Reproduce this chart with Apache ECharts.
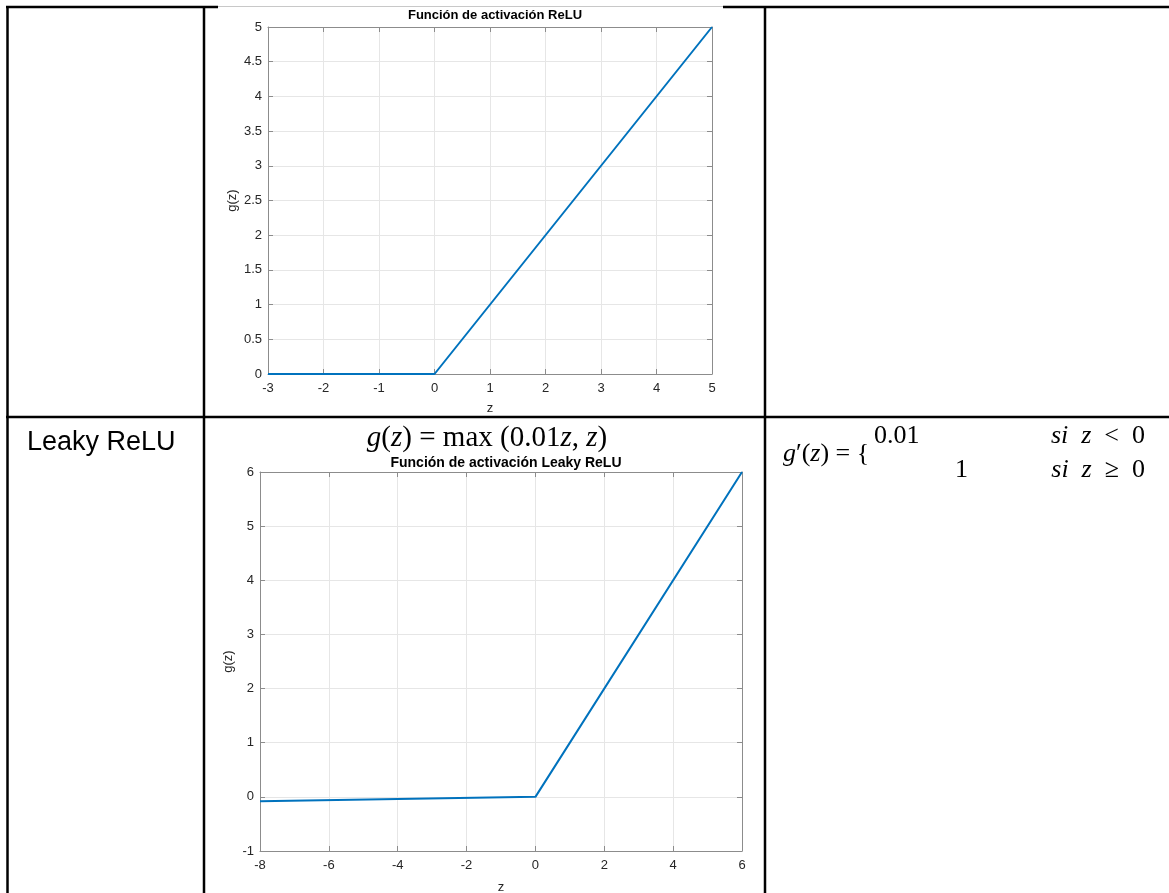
<!DOCTYPE html>
<html>
<head>
<meta charset="utf-8">
<style>html,body{margin:0;padding:0;background:#fff}#c{width:1169px;height:893px}</style>
<script src="https://cdn.jsdelivr.net/npm/echarts@6/dist/echarts.min.js"></script>
</head>
<body>
<div id="c"></div>
<script>
// ReLU data (vertices of the plotted line)
const reluZ = [-3, 0, 5];
const reluG = [0, 0, 5];
// Leaky ReLU data
const leakyZ = [-8, 0, 6];
const leakyG = [-0.08, 0, 6];
// axis ranges / ticks
const reluX = {min: -3, max: 5, interval: 1};
const reluY = {min: 0, max: 5, interval: 0.5};
const leakyX = {min: -8, max: 6, interval: 2};
const leakyY = {min: -1, max: 6, interval: 1};
// texts
const title1 = 'Función de activación ReLU';
const title2 = 'Función de activación Leaky ReLU';
const rowLabel = 'Leaky ReLU';

const AX = '#8c8c8c', LBL = '#262626', GRID = '#e6e6e6', FONT = '"Liberation Sans", Arial, sans-serif';
const SERIF = '"Liberation Serif", "DejaVu Serif", serif';

function bottomAxis(g, r, name, gap) {
  return {type: 'value', gridIndex: g, position: 'bottom', min: r.min, max: r.max, interval: r.interval,
    axisLine: {show: true, onZero: false, lineStyle: {color: AX, width: 1}},
    axisTick: {show: true, inside: true, length: 5, lineStyle: {color: AX}},
    splitLine: {show: true, lineStyle: {color: GRID, width: 1}},
    axisLabel: {color: LBL, fontSize: 13, fontFamily: FONT, margin: 8},
    name: name, nameLocation: 'middle', nameGap: gap, nameTextStyle: {color: LBL, fontSize: 13, fontFamily: FONT}};
}
function topAxis(g, r) {
  return {type: 'value', gridIndex: g, position: 'top', min: r.min, max: r.max, interval: r.interval,
    axisLine: {show: true, onZero: false, lineStyle: {color: AX, width: 1}},
    axisTick: {show: true, inside: true, length: 5, lineStyle: {color: AX}},
    splitLine: {show: false}, axisLabel: {show: false}};
}
function leftAxis(g, r, name, gap) {
  return {type: 'value', gridIndex: g, position: 'left', min: r.min, max: r.max, interval: r.interval,
    axisLine: {show: true, onZero: false, lineStyle: {color: AX, width: 1}},
    axisTick: {show: true, inside: true, length: 5, lineStyle: {color: AX}},
    splitLine: {show: true, lineStyle: {color: GRID, width: 1}},
    axisLabel: {color: LBL, fontSize: 13, fontFamily: FONT, margin: 6},
    name: name, nameLocation: 'middle', nameRotate: 90, nameGap: gap, nameTextStyle: {color: LBL, fontSize: 13, fontFamily: FONT}};
}
function rightAxis(g, r) {
  return {type: 'value', gridIndex: g, position: 'right', min: r.min, max: r.max, interval: r.interval,
    axisLine: {show: true, onZero: false, lineStyle: {color: AX, width: 1}},
    axisTick: {show: true, inside: true, length: 5, lineStyle: {color: AX}},
    splitLine: {show: false}, axisLabel: {show: false}};
}

function mkRich(size) {
  return {
    i: {fontFamily: SERIF, fontStyle: 'italic', fontWeight: 'normal', fontSize: size, color: '#000'},
    n: {fontFamily: SERIF, fontStyle: 'normal', fontWeight: 'normal', fontSize: size, color: '#000'}
  };
}
const rich = mkRich(29);
const rich2 = mkRich(26);

const chart = echarts.init(document.getElementById('c'), null, {renderer: 'canvas'});
const L = 2.5;
chart.setOption({
  animation: false,
  backgroundColor: '#fff',
  grid: [
    {left: 268, top: 27, width: 444, height: 347, containLabel: false, outerBoundsMode: 'none'},
    {left: 260, top: 472, width: 482, height: 379, containLabel: false, outerBoundsMode: 'none'}
  ],
  xAxis: [bottomAxis(0, reluX, 'z', 28), topAxis(0, reluX), bottomAxis(1, leakyX, 'z', 30), topAxis(1, leakyX)],
  yAxis: [leftAxis(0, reluY, 'g(z)', 29), rightAxis(0, reluY), leftAxis(1, leakyY, 'g(z)', 25), rightAxis(1, leakyY)],
  title: [
    {text: title1, left: 490, top: 4, textAlign: 'center', textStyle: {fontFamily: FONT, fontWeight: 'bold', fontSize: 13, color: '#000'}},
    {text: title2, left: 501, top: 451, textAlign: 'center', textStyle: {fontFamily: FONT, fontWeight: 'bold', fontSize: 14, color: '#000'}},
    {text: rowLabel, left: 22, top: 424, textStyle: {fontFamily: FONT, fontWeight: 'normal', fontSize: 27, color: '#000'}},
    {text: '{i|g}{n|(}{i|z}{n|) = max (0.01}{i|z}{n|, }{i|z}{n|)}', left: 482, top: 419, textAlign: 'center', textStyle: {fontWeight: 'normal', rich: rich}},
    {text: '{i|g}{n|′(}{i|z}{n|) = {}', left: 778, top: 436, textStyle: {fontWeight: 'normal', rich: rich2}},
    {text: '{n|0.01}', left: 869, top: 418, textStyle: {fontWeight: 'normal', rich: rich2}},
    {text: '{i|si  z}{n|  <  0}', left: 1140, top: 418, textAlign: 'right', textStyle: {fontWeight: 'normal', rich: rich2}},
    {text: '{n|1}', left: 950, top: 452, textStyle: {fontWeight: 'normal', rich: rich2}},
    {text: '{i|si  z}{n|  ≥  0}', left: 1140, top: 452, textAlign: 'right', textStyle: {fontWeight: 'normal', rich: rich2}}
  ],
  series: [
    {type: 'line', xAxisIndex: 0, yAxisIndex: 0, data: reluZ.map((z, k) => [z, reluG[k]]), symbol: 'none', lineStyle: {color: '#0072BD', width: 2}, clip: false},
    {type: 'line', xAxisIndex: 2, yAxisIndex: 2, data: leakyZ.map((z, k) => [z, leakyG[k]]), symbol: 'none', lineStyle: {color: '#0072BD', width: 2}, clip: false}
  ],
  graphic: [
    {type: 'line', shape: {x1: 6, y1: 7, x2: 218, y2: 7}, style: {stroke: '#000', lineWidth: L}},
    {type: 'line', shape: {x1: 218, y1: 6.5, x2: 723, y2: 6.5}, style: {stroke: '#c8c8c8', lineWidth: 1}},
    {type: 'line', shape: {x1: 723, y1: 7, x2: 1169, y2: 7}, style: {stroke: '#000', lineWidth: L}},
    {type: 'line', shape: {x1: 7.5, y1: 6, x2: 7.5, y2: 893}, style: {stroke: '#000', lineWidth: L}},
    {type: 'line', shape: {x1: 204, y1: 6, x2: 204, y2: 893}, style: {stroke: '#000', lineWidth: L}},
    {type: 'line', shape: {x1: 765, y1: 6, x2: 765, y2: 893}, style: {stroke: '#000', lineWidth: L}},
    {type: 'line', shape: {x1: 6, y1: 417, x2: 1169, y2: 417}, style: {stroke: '#000', lineWidth: L}}
  ]
});
</script>
</body>
</html>
